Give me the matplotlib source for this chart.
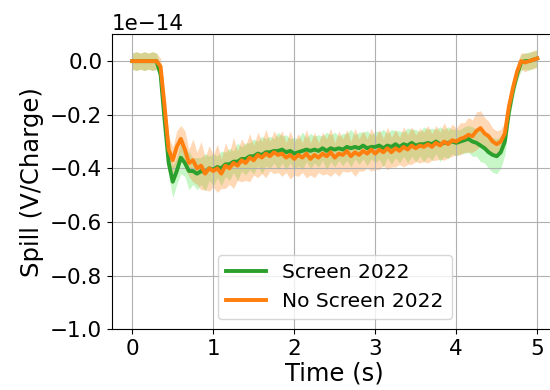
import numpy as np
import matplotlib
matplotlib.use('Agg')
import matplotlib.pyplot as plt

# time axis (s), 0.05 s steps
t = np.arange(101) * 0.05

# Screen 2022 mean (units of 1e-14 V/Charge)
screen = [0.0, 0.0, 0.0, 0.0, 0.0, 0.0, 0.0,
          -0.05, -0.22, -0.38, -0.45, -0.41, -0.36, -0.38, -0.41, -0.41, -0.42, -0.41, -0.415, -0.40,
          -0.405, -0.395, -0.40, -0.385, -0.385, -0.375, -0.375, -0.365, -0.365, -0.355,
          -0.355, -0.345, -0.35, -0.34, -0.34, -0.335, -0.335, -0.33, -0.34, -0.335,
          -0.345, -0.34, -0.335, -0.33, -0.335, -0.33, -0.335, -0.325, -0.335, -0.325,
          -0.33, -0.325, -0.33, -0.32, -0.325, -0.32, -0.325, -0.315, -0.325, -0.32,
          -0.32, -0.315, -0.325, -0.315, -0.32, -0.31, -0.32, -0.31, -0.315, -0.305,
          -0.315, -0.31, -0.31, -0.305, -0.31, -0.30, -0.31, -0.305, -0.305, -0.30,
          -0.305, -0.30, -0.295, -0.29, -0.30, -0.305, -0.315, -0.325, -0.34, -0.35,
          -0.355, -0.34, -0.30, -0.19, -0.11, -0.05, -0.005, 0.0, 0.0, 0.005, 0.01]
# No Screen 2022 mean
noscreen = [0.0, 0.0, 0.0, 0.0, 0.0, 0.0, 0.0,
            -0.02, -0.17, -0.33, -0.37, -0.32, -0.29, -0.33, -0.38, -0.37, -0.40, -0.39, -0.42, -0.40,
            -0.41, -0.40, -0.42, -0.39, -0.40, -0.38, -0.39, -0.37, -0.38, -0.36,
            -0.37, -0.35, -0.36, -0.345, -0.355, -0.34, -0.35, -0.345, -0.36, -0.35,
            -0.365, -0.35, -0.36, -0.345, -0.365, -0.35, -0.36, -0.345, -0.355, -0.34,
            -0.36, -0.345, -0.35, -0.335, -0.355, -0.34, -0.35, -0.335, -0.345, -0.33,
            -0.345, -0.33, -0.34, -0.325, -0.34, -0.325, -0.335, -0.32, -0.33, -0.315,
            -0.325, -0.315, -0.32, -0.31, -0.32, -0.305, -0.315, -0.30, -0.31, -0.295,
            -0.30, -0.29, -0.285, -0.275, -0.28, -0.26, -0.25, -0.27, -0.28, -0.30,
            -0.31, -0.30, -0.27, -0.17, -0.10, -0.04, 0.0, -0.005, 0.0, 0.005, 0.01]

# spread (half width of shaded band)
screen_err = [0.03, 0.035, 0.03, 0.035, 0.03, 0.035, 0.03,
              0.03, 0.04, 0.05, 0.06, 0.05, 0.06, 0.05, 0.07, 0.05, 0.06, 0.05, 0.07, 0.045,
              0.06, 0.04, 0.065, 0.045, 0.06, 0.04, 0.07, 0.045, 0.06, 0.05,
              0.065, 0.045, 0.07, 0.05, 0.06, 0.045, 0.07, 0.05, 0.065, 0.045,
              0.06, 0.05, 0.07, 0.045, 0.065, 0.05, 0.06, 0.045, 0.07, 0.05,
              0.065, 0.045, 0.06, 0.05, 0.07, 0.045, 0.06, 0.05, 0.065, 0.045,
              0.06, 0.05, 0.07, 0.045, 0.065, 0.05, 0.06, 0.045, 0.065, 0.05,
              0.06, 0.045, 0.065, 0.05, 0.06, 0.045, 0.065, 0.05, 0.06, 0.045,
              0.05, 0.045, 0.05, 0.05, 0.055, 0.05, 0.06, 0.055, 0.06, 0.065,
              0.065, 0.06, 0.05, 0.04, 0.035, 0.03, 0.03, 0.03, 0.035, 0.03, 0.035]
noscreen_err = [0.03, 0.035, 0.03, 0.035, 0.03, 0.035, 0.03,
                0.03, 0.04, 0.05, 0.05, 0.06, 0.05, 0.07, 0.05, 0.08, 0.06, 0.09, 0.06, 0.085,
                0.06, 0.09, 0.055, 0.085, 0.06, 0.095, 0.055, 0.08, 0.065, 0.09,
                0.055, 0.085, 0.06, 0.09, 0.055, 0.08, 0.065, 0.085, 0.055, 0.09,
                0.06, 0.08, 0.055, 0.09, 0.06, 0.085, 0.055, 0.08, 0.065, 0.09,
                0.055, 0.085, 0.06, 0.08, 0.055, 0.09, 0.06, 0.075, 0.055, 0.08,
                0.06, 0.075, 0.05, 0.08, 0.055, 0.07, 0.05, 0.075, 0.055, 0.07,
                0.05, 0.065, 0.055, 0.07, 0.05, 0.065, 0.05, 0.07, 0.05, 0.06,
                0.05, 0.06, 0.055, 0.065, 0.06, 0.07, 0.065, 0.06, 0.055, 0.05,
                0.05, 0.045, 0.04, 0.035, 0.03, 0.03, 0.03, 0.035, 0.03, 0.035, 0.03]

screen = np.array(screen) * 1e-14
noscreen = np.array(noscreen) * 1e-14
screen_err = np.array(screen_err) * 1e-14
noscreen_err = np.array(noscreen_err) * 1e-14

fig = plt.figure(figsize=(5.5, 3.9), dpi=100)
ax = fig.add_axes([0.2036, 0.156, 0.81, 0.756])

ax.fill_between(t, screen - screen_err, screen + screen_err, color='lightgreen', alpha=0.5, lw=0)
ax.fill_between(t, noscreen - noscreen_err, noscreen + noscreen_err, color='#ff7f0e', alpha=0.3, lw=0)
ax.plot(t, screen, color='#2ca02c', lw=2.8, label='Screen 2022')
ax.plot(t, noscreen, color='#ff7f0e', lw=2.8, label='No Screen 2022')

ax.set_xlim(-0.25, 5.25)
ax.set_ylim(-1.0e-14, 0.1e-14)
ax.set_yticks(np.arange(-1.0, 0.01, 0.2) * 1e-14)
ax.grid(True, color='#b0b0b0', lw=0.8)
ax.tick_params(axis='both', labelsize=15.5)
ax.yaxis.get_offset_text().set_fontsize(15.5)
ax.set_xlabel('Time (s)', fontsize=17.5, labelpad=2)
ax.set_ylabel('Spill (V/Charge)', fontsize=17.5)
ax.legend(loc='lower center', fontsize=14.5)

fig.savefig('out.png', dpi=100)
